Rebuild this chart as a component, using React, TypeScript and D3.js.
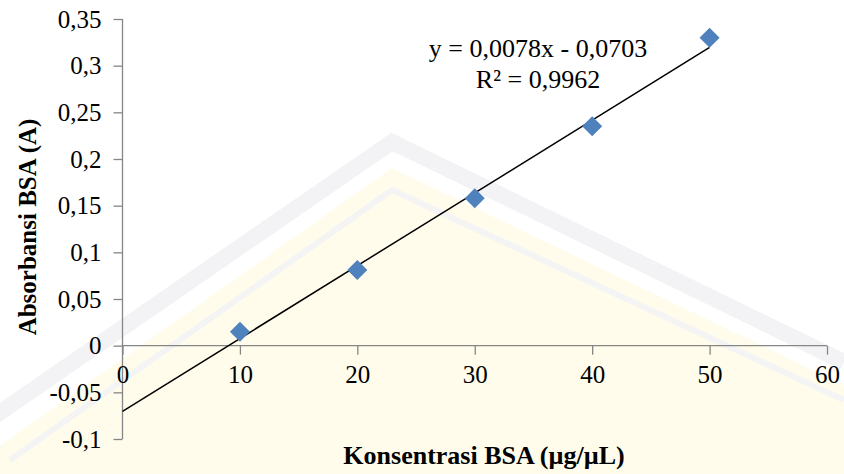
import * as d3 from 'd3';
import React, { useEffect, useRef } from 'react';

// data
const konsentrasi = [10, 20, 30, 40, 50];
const absorbansi = [0.015, 0.081, 0.158, 0.235, 0.33];
const slope = 0.0078;
const intercept = -0.0703;
const xTicks = [0, 10, 20, 30, 40, 50, 60];
const yTicks = [-0.1, -0.05, 0, 0.05, 0.1, 0.15, 0.2, 0.25, 0.3, 0.35];
const equationLines = ['y = 0,0078x - 0,0703', 'R² = 0,9962'];

const W = 844;
const H = 474;
const FONT = '"Liberation Serif", "Times New Roman", serif';
const AXIS = '#868686';

const App = () => {
    const ref = useRef<SVGSVGElement | null>(null);

    useEffect(() => {
        const svg = d3.select(ref.current);
        svg.selectAll('*').remove();

        const x = d3.scaleLinear().domain([0, 60]).range([122.5, 827]);
        const y = d3.scaleLinear().domain([-0.1, 0.35]).range([439, 19]);

        const locale = d3.formatLocale({ decimal: ',', thousands: '.', grouping: [3], currency: ['', ''], minus: '-' });
        const fmt = locale.format('~g');

        // faint watermark (logo chevron)
        const wm = svg.append('g');
        wm.append('path')
            .attr('d', 'M -40 474 L 392 168 L 844 385 L 844 474 Z')
            .attr('fill', '#fffcec');
        wm.append('path')
            .attr('d', 'M -40 440 L 392 142 L 844 362')
            .attr('fill', 'none')
            .attr('stroke', '#f3f3f6')
            .attr('stroke-width', 16);
        wm.append('path')
            .attr('d', 'M 10 460 L 392 190 L 844 400')
            .attr('fill', 'none')
            .attr('stroke', '#f4f4f4')
            .attr('stroke-width', 6);

        // y axis
        const yAxis = svg.append('g')
            .attr('transform', `translate(${x(0)},0)`)
            .call(d3.axisLeft(y).tickValues(yTicks).tickSize(9).tickPadding(12).tickFormat(d => fmt(+d)));
        yAxis.select('.domain').attr('stroke', AXIS).attr('stroke-width', 1.3).attr('d', `M0,${y(0.35)}V${y(-0.1)}`);
        yAxis.selectAll('.tick line').attr('stroke', AXIS).attr('stroke-width', 1.3);
        yAxis.selectAll('.tick text')
            .attr('fill', '#000')
            .style('font-family', FONT)
            .style('font-size', '25px');

        // x axis at y = 0
        const xAxis = svg.append('g')
            .attr('transform', `translate(0,${y(0)})`)
            .call(d3.axisBottom(x).tickValues(xTicks).tickSize(9).tickPadding(11).tickFormat(d => fmt(+d)));
        xAxis.select('.domain').attr('stroke', AXIS).attr('stroke-width', 1.3).attr('d', `M${x(0)},0H${x(60)}`);
        xAxis.selectAll('.tick line').attr('stroke', AXIS).attr('stroke-width', 1.3);
        xAxis.selectAll('.tick text')
            .attr('fill', '#000')
            .style('font-family', FONT)
            .style('font-size', '25px');

        // trendline
        svg.append('line')
            .attr('x1', x(0))
            .attr('y1', y(intercept))
            .attr('x2', x(50))
            .attr('y2', y(slope * 50 + intercept))
            .attr('stroke', '#000')
            .attr('stroke-width', 1.5);

        // markers
        svg.selectAll('.pt')
            .data(konsentrasi.map((k, i) => [k, absorbansi[i]]))
            .enter().append('path')
            .attr('class', 'pt')
            .attr('d', d3.symbol().type(d3.symbolSquare).size(200)())
            .attr('transform', d => `translate(${x(d[0])},${y(d[1])}) rotate(45)`)
            .attr('fill', '#4f81bd');

        // equation
        svg.selectAll('.eq')
            .data(equationLines)
            .enter().append('text')
            .attr('class', 'eq')
            .attr('x', 538)
            .attr('y', (d, i) => 57 + i * 31)
            .attr('text-anchor', 'middle')
            .style('font-family', FONT)
            .style('font-size', '26px')
            .text(d => d);

        // axis titles
        svg.append('text')
            .attr('x', 484)
            .attr('y', 464)
            .attr('text-anchor', 'middle')
            .style('font-family', FONT)
            .style('font-weight', 'bold')
            .style('font-size', '26px')
            .text('Konsentrasi BSA (µg/µL)');

        svg.append('text')
            .attr('transform', 'translate(36,227) rotate(-90)')
            .attr('text-anchor', 'middle')
            .style('font-family', FONT)
            .style('font-weight', 'bold')
            .style('font-size', '25px')
            .text('Absorbansi BSA (A)');
    }, []);

    return (
        <svg ref={ref} width={W} height={H} style={{ position: 'absolute', left: 0, top: 0, background: '#fff' }} />
    );
};

export default App;
